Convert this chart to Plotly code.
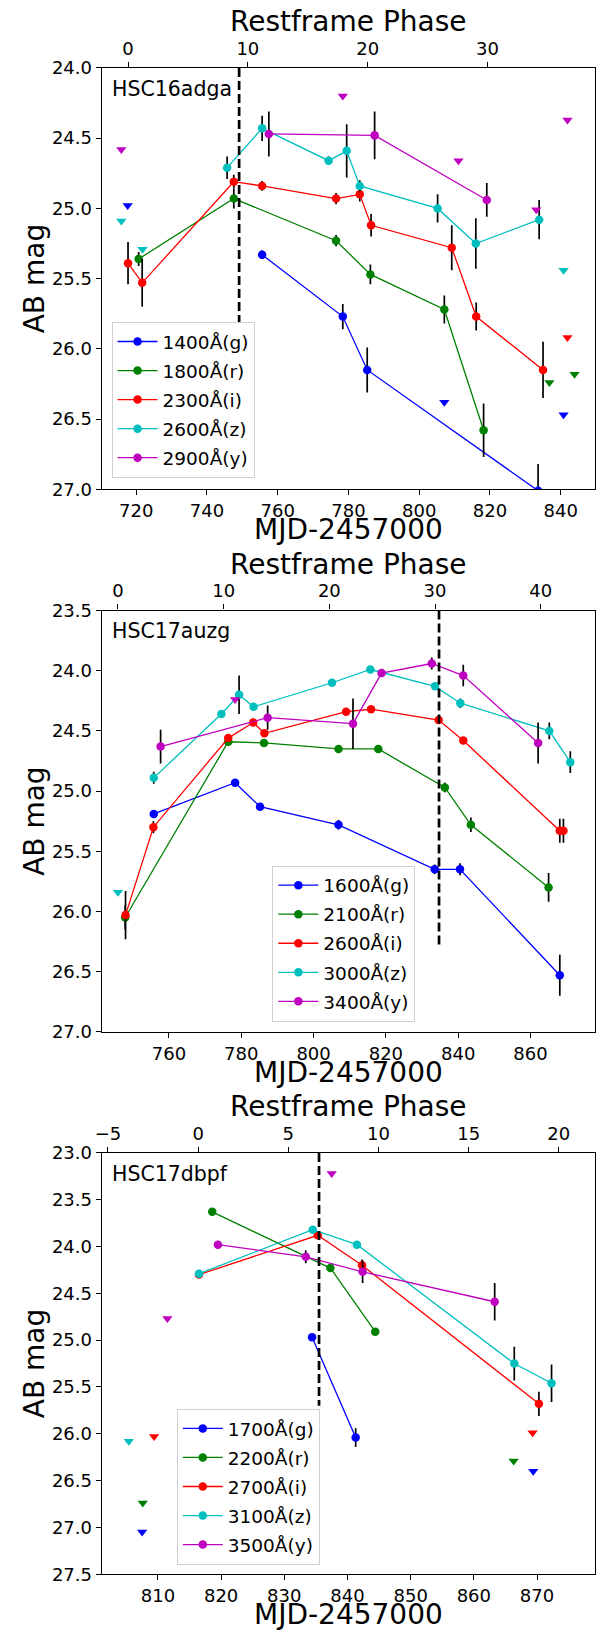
import math
import plotly.graph_objects as go

# ---------------------------------------------------------------------------
# Photometry (MJD-2457000, AB mag, error) per band, and upper limits (MJD, mag)
# ---------------------------------------------------------------------------

# HSC16adga
ADGA_G = [(755.6, 25.33, 0.03), (778.4, 25.77, 0.09), (785.3, 26.15, 0.16), (833.6, 27.01, 0.19)]
ADGA_R = [(720.7, 25.36, 0.05), (747.6, 24.93, 0.07), (776.5, 25.23, 0.04), (786.2, 25.47, 0.07),
          (807.1, 25.72, 0.10), (818.2, 26.58, 0.19)]
ADGA_I = [(717.7, 25.39, 0.15), (721.7, 25.53, 0.17), (747.6, 24.81, 0.05), (755.6, 24.84, 0.035),
          (776.5, 24.93, 0.04), (783.2, 24.90, 0.05), (786.4, 25.12, 0.08), (809.2, 25.28, 0.16),
          (816.1, 25.77, 0.10), (835.0, 26.15, 0.20)]
ADGA_Z = [(745.7, 24.71, 0.08), (755.6, 24.43, 0.09), (774.4, 24.66, 0.03), (779.5, 24.59, 0.19),
          (783.2, 24.84, 0.04), (805.2, 25.00, 0.10), (816.0, 25.25, 0.18), (833.9, 25.08, 0.14)]
ADGA_Y = [(757.5, 24.47, 0.16), (787.4, 24.48, 0.17), (819.1, 24.94, 0.12)]
ADGA_G_LIM = [(717.6, 24.98), (807.1, 26.38), (840.8, 26.47)]
ADGA_R_LIM = [(836.8, 26.24), (843.9, 26.18)]
ADGA_I_LIM = [(841.9, 25.92)]
ADGA_Z_LIM = [(715.8, 25.09), (721.8, 25.29), (840.8, 25.44)]
ADGA_Y_LIM = [(715.8, 24.58), (778.4, 24.20), (811.1, 24.66), (833.1, 25.01), (841.9, 24.37)]
ADGA_WAVE = [1400, 1800, 2300, 2600, 2900]

# HSC17auzg
AUZG_G = [(755.8, 25.19, 0.03), (778.3, 24.93, 0.03), (785.2, 25.13, 0.03), (806.9, 25.28, 0.04),
          (833.5, 25.65, 0.04), (840.5, 25.65, 0.05), (868.1, 26.53, 0.17)]
AUZG_R = [(747.9, 26.05, 0.10), (776.4, 24.59, 0.02), (786.3, 24.60, 0.02), (806.9, 24.65, 0.02),
          (817.9, 24.65, 0.02), (836.3, 24.97, 0.04), (843.5, 25.28, 0.06), (865.0, 25.80, 0.12)]
AUZG_I = [(748.0, 26.03, 0.20), (755.7, 25.30, 0.05), (776.4, 24.56, 0.03), (783.3, 24.43, 0.03),
          (786.4, 24.52, 0.03), (809.0, 24.34, 0.03), (815.9, 24.32, 0.02), (834.6, 24.41, 0.03),
          (841.4, 24.58, 0.02), (868.1, 25.33, 0.10), (869.1, 25.33, 0.10)]
AUZG_Z = [(755.8, 24.89, 0.05), (774.5, 24.36, 0.02), (779.4, 24.20, 0.16), (783.4, 24.30, 0.03),
          (805.1, 24.10, 0.03), (815.7, 23.99, 0.02), (833.6, 24.13, 0.02), (840.6, 24.27, 0.04),
          (865.2, 24.50, 0.07), (871.0, 24.76, 0.09)]
AUZG_Y = [(757.7, 24.63, 0.14), (787.3, 24.39, 0.10), (810.9, 24.44, 0.21), (818.8, 24.02, 0.03),
          (832.7, 23.94, 0.05), (841.4, 24.04, 0.09), (862.1, 24.60, 0.17)]
AUZG_G_LIM = []
AUZG_R_LIM = []
AUZG_I_LIM = []
AUZG_Z_LIM = [(745.9, 25.84)]
AUZG_Y_LIM = [(778.3, 24.24)]
AUZG_WAVE = [1600, 2100, 2600, 3000, 3400]

# HSC17dbpf
DBPF_G = [(834.4, 24.97, 0.02), (841.3, 26.04, 0.10)]
DBPF_R = [(818.6, 23.63, 0.02), (837.3, 24.23, 0.02), (844.4, 24.91, 0.02)]
DBPF_I = [(816.5, 24.30, 0.02), (835.3, 23.88, 0.03), (842.3, 24.20, 0.06), (870.3, 25.68, 0.13)]
DBPF_Z = [(816.5, 24.29, 0.02), (834.5, 23.82, 0.02), (841.5, 23.98, 0.02), (866.4, 25.25, 0.18),
          (872.3, 25.46, 0.20)]
DBPF_Y = [(819.5, 23.98, 0.02), (833.4, 24.11, 0.07), (842.4, 24.27, 0.12), (863.3, 24.59, 0.20)]
DBPF_G_LIM = [(807.5, 27.05), (869.4, 26.40)]
DBPF_R_LIM = [(807.6, 26.74), (866.3, 26.29)]
DBPF_I_LIM = [(809.4, 26.03), (869.3, 25.99)]
DBPF_Z_LIM = [(805.4, 26.08)]
DBPF_Y_LIM = [(811.5, 24.77), (837.5, 23.22)]
DBPF_WAVE = [1700, 2200, 2700, 3100, 3500]

BANDS = ["g", "r", "i", "z", "y"]
COLORS = {"g": "#0000ff", "r": "#008000", "i": "#ff0000", "z": "#00bfbf", "y": "#bf00bf"}

# Per-object setup: name, detections, limits, wavelengths, axis ranges,
# phase zero-point (MJD), 1+z, and the dashed reference line (MJD, mag from, mag to)
PANELS = [
    dict(name="HSC16adga", det=[ADGA_G, ADGA_R, ADGA_I, ADGA_Z, ADGA_Y],
         lim=[ADGA_G_LIM, ADGA_R_LIM, ADGA_I_LIM, ADGA_Z_LIM, ADGA_Y_LIM], wave=ADGA_WAVE,
         xr=[710.25, 849.55], yr=[27.0, 24.0], xdt=20, t0=717.7, zp1=3.387, pdt=10,
         vline=(749.1, 24.0, 25.81), legend_xy=(105.8, 315)),
    dict(name="HSC17auzg", det=[AUZG_G, AUZG_R, AUZG_I, AUZG_Z, AUZG_Y],
         lim=[AUZG_G_LIM, AUZG_R_LIM, AUZG_I_LIM, AUZG_Z_LIM, AUZG_Y_LIM], wave=AUZG_WAVE,
         xr=[741.4, 877.7], yr=[27.0, 23.5], xdt=20, t0=745.9, zp1=2.923, pdt=10,
         vline=(834.7, 23.5, 26.3), legend_xy=(268.5, 865.7)),
    dict(name="HSC17dbpf", det=[DBPF_G, DBPF_R, DBPF_I, DBPF_Z, DBPF_Y],
         lim=[DBPF_G_LIM, DBPF_R_LIM, DBPF_I_LIM, DBPF_Z_LIM, DBPF_Y_LIM], wave=DBPF_WAVE,
         xr=[801.1, 879.1], yr=[27.5, 23.0], xdt=10, t0=816.37, zp1=2.854, pdt=5,
         vline=(835.5, 23.0, 25.7), legend_xy=(171.8, 1416)),
]

W, H = 596, 1639
FONT = "DejaVu Sans"
PLOT_LEFT, PLOT_RIGHT = 95.8, 594.5
PLOT_TOPS = [57.7, 607.3, 1156.7]
PLOT_H = 426.8
TICK_FS, LEGEND_FS, TITLE_FS, NAME_FS = 18, 18.5, 28, 20.5


def px(x):
    return x / W


def py(y):
    return 1 - y / H


fig = go.Figure()
layout = dict(shapes=[], annotations=[])

for k, p in enumerate(PANELS):
    xb = "x" if k == 0 else f"x{2 * k + 1}"      # MJD axis
    xt = f"x{2 * k + 2}"                          # phase axis
    ya = "y" if k == 0 else f"y{k + 1}"
    leg = "legend" if k == 0 else f"legend{k + 1}"
    top = PLOT_TOPS[k]
    bot = top + PLOT_H

    for b, det, lim, wl in zip(BANDS, p["det"], p["lim"], p["wave"]):
        c = COLORS[b]
        if lim:
            fig.add_trace(go.Scatter(
                x=[d[0] for d in lim], y=[d[1] for d in lim], mode="markers",
                marker=dict(color=c, size=9, symbol="triangle-down"),
                showlegend=False, xaxis=xb, yaxis=ya))
        fig.add_trace(go.Scatter(
            x=[d[0] for d in det], y=[d[1] for d in det],
            error_y=dict(type="data", array=[d[2] for d in det], color="black",
                         thickness=1.7, width=0),
            mode="lines+markers", line=dict(color=c, width=1.3),
            marker=dict(color=c, size=8.5),
            name=f"{wl}Å({b})", legend=leg, legendgroup=f"{k}{b}",
            xaxis=xb, yaxis=ya))

    prange = [(p["xr"][0] - p["t0"]) / p["zp1"], (p["xr"][1] - p["t0"]) / p["zp1"]]
    # empty carrier so the rest-frame phase axis gets drawn on top
    fig.add_trace(go.Scatter(x=prange, y=[math.nan, math.nan], mode="markers",
                             showlegend=False, hoverinfo="skip", xaxis=xt, yaxis=ya))

    dom_x = [px(PLOT_LEFT), px(PLOT_RIGHT)]
    dom_y = [py(bot), py(top)]
    axis_common = dict(showline=True, linecolor="black", linewidth=1.2, ticks="outside",
                       ticklen=5, tickwidth=1, tickcolor="black", showgrid=False,
                       zeroline=False, tickfont=dict(family=FONT, size=TICK_FS, color="black"))

    layout["xaxis" if k == 0 else f"xaxis{2 * k + 1}"] = dict(
        domain=dom_x, anchor=ya, range=p["xr"], dtick=p["xdt"], tick0=0,
        mirror=True, **axis_common)
    layout[f"xaxis{2 * k + 2}"] = dict(
        domain=dom_x, anchor=ya, overlaying=xb, side="top", range=prange,
        dtick=p["pdt"], tick0=0, **axis_common)
    layout["yaxis" if k == 0 else f"yaxis{k + 1}"] = dict(
        domain=dom_y, anchor=xb, range=p["yr"], dtick=0.5, tick0=0, tickformat=".1f",
        mirror=True, **axis_common)

    lx, ly = p["legend_xy"]
    layout[leg] = dict(x=px(lx), y=py(ly), xanchor="left", yanchor="top",
                       bgcolor="white", bordercolor="#d0d0d0", borderwidth=1,
                       font=dict(family=FONT, size=LEGEND_FS, color="black"), itemwidth=40,
                       tracegroupgap=2, traceorder="grouped")

    vx, v0, v1 = p["vline"]
    layout["shapes"].append(dict(type="line", xref=xb, yref=ya, x0=vx, x1=vx, y0=v0, y1=v1,
                                 line=dict(color="black", width=2.7, dash="9px,4px")))

    cx = px((PLOT_LEFT + PLOT_RIGHT) / 2)
    layout["annotations"] += [
        dict(text=p["name"], xref="paper", yref="paper", x=px(104), y=py(top + 21),
             xanchor="left", yanchor="middle", showarrow=False,
             font=dict(family=FONT, size=NAME_FS, color="black")),
        dict(text="Restframe Phase", xref="paper", yref="paper", x=cx, y=py(top - 47),
             xanchor="center", yanchor="middle", showarrow=False,
             font=dict(family=FONT, size=TITLE_FS, color="black")),
        dict(text="MJD-2457000", xref="paper", yref="paper", x=cx, y=py(bot + 41),
             xanchor="center", yanchor="middle", showarrow=False,
             font=dict(family=FONT, size=TITLE_FS, color="black")),
        dict(text="AB mag", xref="paper", yref="paper", x=px(28), y=py(top + PLOT_H / 2),
             xanchor="center", yanchor="middle", textangle=-90, showarrow=False,
             font=dict(family=FONT, size=TITLE_FS, color="black")),
    ]

fig.update_layout(width=W, height=H, margin=dict(l=0, r=0, t=0, b=0),
                  paper_bgcolor="white", plot_bgcolor="white",
                  font=dict(family=FONT, color="black"), **layout)

fig.write_html("out.html")
